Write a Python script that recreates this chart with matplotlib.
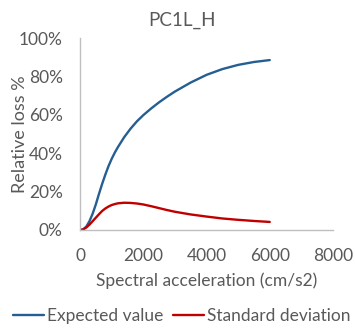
import matplotlib
matplotlib.use("Agg")
import matplotlib.pyplot as plt
from matplotlib.ticker import FuncFormatter

plt.rcParams['font.family'] = ['Lato', 'DejaVu Sans']

title = "PC1L_H"
x_vals = [0, 100, 200, 300, 400, 500, 600, 700, 800, 900, 1000, 1100, 1200, 1400, 1600, 1800, 2000,
          2250, 2500, 2750, 3000, 3500, 4000, 4500, 5000, 5500, 6000]
expected = [0.0, 0.003, 0.018, 0.046, 0.085, 0.133, 0.188, 0.240, 0.288, 0.332, 0.370, 0.403, 0.432,
            0.484, 0.528, 0.566, 0.598, 0.633, 0.665, 0.694, 0.721, 0.768, 0.808, 0.838, 0.860,
            0.875, 0.885]
std_dev = [0.0, 0.003, 0.013, 0.028, 0.046, 0.064, 0.082, 0.099, 0.112, 0.122, 0.130, 0.135, 0.139,
           0.142, 0.141, 0.138, 0.133, 0.124, 0.114, 0.104, 0.095, 0.081, 0.070, 0.060, 0.053,
           0.047, 0.042]
x_ticks = [0, 2000, 4000, 6000, 8000]
y_ticks = [0, 0.2, 0.4, 0.6, 0.8, 1.0]

grey = '#595959'
fig = plt.figure(figsize=(3.55, 3.28), dpi=100)
ax = fig.add_axes([80/355, 98/328, 253/355, 192/328])
ax.plot(x_vals, expected, color='#255E91', lw=1.7, label='Expected value', solid_capstyle='round')
ax.plot(x_vals, std_dev, color='#C00000', lw=1.7, label='Standard deviation', solid_capstyle='round')
ax.set_xlim(0, 8000)
ax.set_ylim(0, 1.0)
ax.set_xticks(x_ticks)
ax.set_yticks(y_ticks)
ax.yaxis.set_major_formatter(FuncFormatter(lambda v, p: f"{v*100:.0f}%"))
for s in ['top', 'right']:
    ax.spines[s].set_visible(False)
for s in ['left', 'bottom']:
    ax.spines[s].set_color('#BFBFBF')
    ax.spines[s].set_linewidth(1.0)
ax.tick_params(length=0, labelsize=12.5, labelcolor=grey)
ax.tick_params(axis='y', pad=12.5)
ax.tick_params(axis='x', pad=13)
ax.set_xlabel('Spectral acceleration (cm/s2)', fontsize=12.5, color=grey, labelpad=6)
ax.set_ylabel('Relative loss %', fontsize=13, color=grey)
ax.yaxis.set_label_coords((28.5 - 80) / 253, 0.5)
fig.text(182/355, 1 - 20/328, title, ha='center', va='center', fontsize=13.5, color=grey)
fig.legend(loc='center', bbox_to_anchor=(182/355, 1 - 316/328), ncol=2, frameon=False,
           fontsize=12.5, labelcolor=grey, handlelength=1.75, handletextpad=0.2, columnspacing=0.55,
           borderpad=0, borderaxespad=0)
fig.savefig('out.png', dpi=100)
